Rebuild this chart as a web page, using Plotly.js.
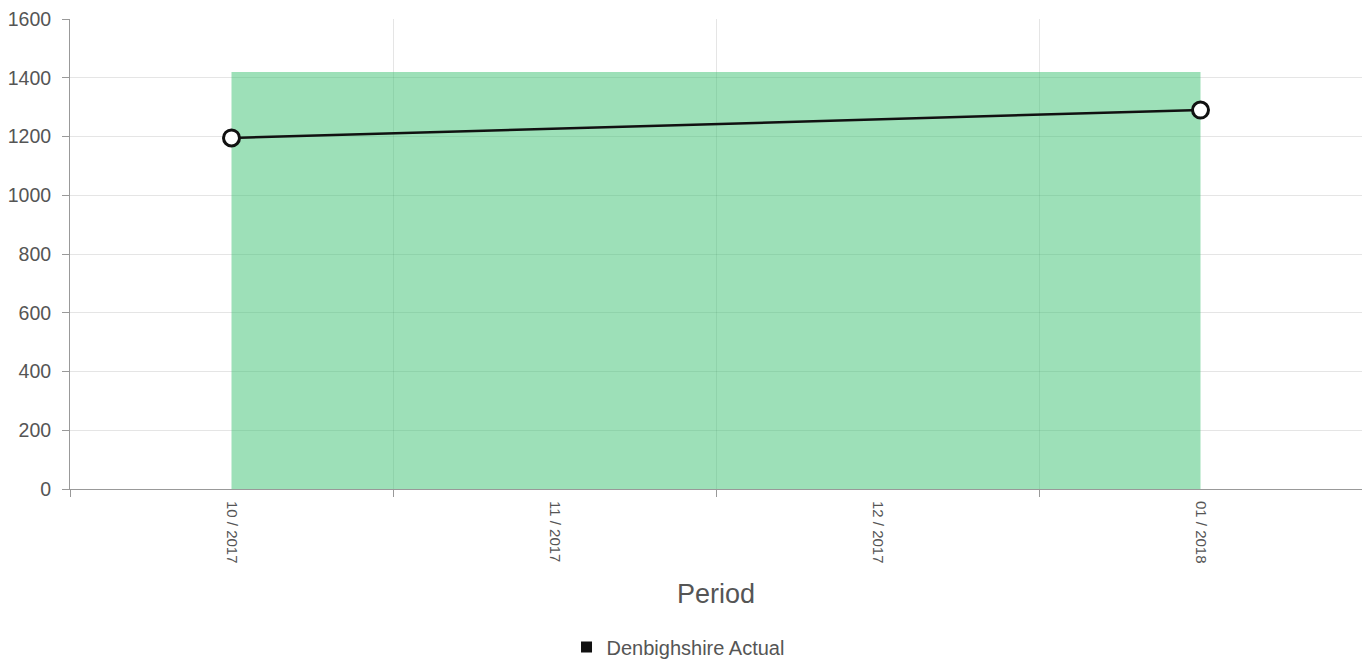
<!DOCTYPE html>
<html><head><meta charset="utf-8">
<script src="https://cdn.plot.ly/plotly-3.0.1.min.js"></script>
<style>html,body{margin:0;padding:0;background:#fff}#chart{width:1362px;height:661px}</style>
</head><body><div id="chart"></div>
<script>
const periods = ['10 / 2017', '11 / 2017', '12 / 2017', '01 / 2018'];
const targetPeriods = ['10 / 2017', '01 / 2018'];
const targetValues = [1420, 1420];
const actualPeriods = ['10 / 2017', '01 / 2018'];
const actualValues = [1195, 1290];
const seriesName = 'Denbighshire Actual';

const traces = [
  {x: targetPeriods, y: targetValues, type: 'scatter', mode: 'lines', fill: 'tozeroy',
   fillcolor: 'rgba(59,193,113,0.5)', line: {width: 0, color: 'rgba(59,193,113,0.5)'},
   showlegend: false, hoverinfo: 'skip'},
  {x: actualPeriods, y: actualValues, type: 'scatter', mode: 'lines+markers', name: seriesName,
   line: {color: '#111', width: 2.5},
   marker: {size: 16, color: '#fff', line: {color: '#111', width: 3}}, showlegend: false},
  {x: [null], y: [null], type: 'scatter', mode: 'markers', name: seriesName,
   marker: {symbol: 'square', size: 11, color: '#111'}, showlegend: true}
];

const layout = {
  width: 1362, height: 661,
  margin: {l: 70, r: 0, t: 19, b: 172, autoexpand: false},
  paper_bgcolor: '#fff', plot_bgcolor: '#fff',
  font: {family: 'Liberation Sans, Arial, sans-serif', color: '#666'},
  showlegend: true,
  legend: {orientation: 'h', x: 0.4706, xanchor: 'center', yref: 'container', y: 0.021, yanchor: 'middle',
           font: {size: 20, color: '#555'}},
  xaxis: {type: 'category', categoryorder: 'array', categoryarray: periods,
          range: [-0.5, 3.5], tickson: 'boundaries', ticks: 'outside', ticklen: 7,
          tickcolor: '#999', tickangle: 90, tickfont: {size: 15, color: '#555'},
          ticklabelstandoff: 8, automargin: false,
          showgrid: true, gridcolor: 'rgba(0,0,0,0.1)', showline: true, linecolor: '#999',
          zeroline: false,
          title: {text: 'Period', font: {size: 27, color: '#555'}, standoff: 21}},
  yaxis: {range: [0, 1600], dtick: 200, ticks: 'outside', ticklen: 7, tickcolor: '#999',
          tickfont: {size: 19.5, color: '#555'}, ticklabelstandoff: 7, automargin: false,
          showgrid: true, gridcolor: 'rgba(0,0,0,0.1)',
          showline: true, linecolor: '#999', zeroline: false}
};
Plotly.newPlot('chart', traces, layout, {displayModeBar: false, staticPlot: true});
</script></body></html>
